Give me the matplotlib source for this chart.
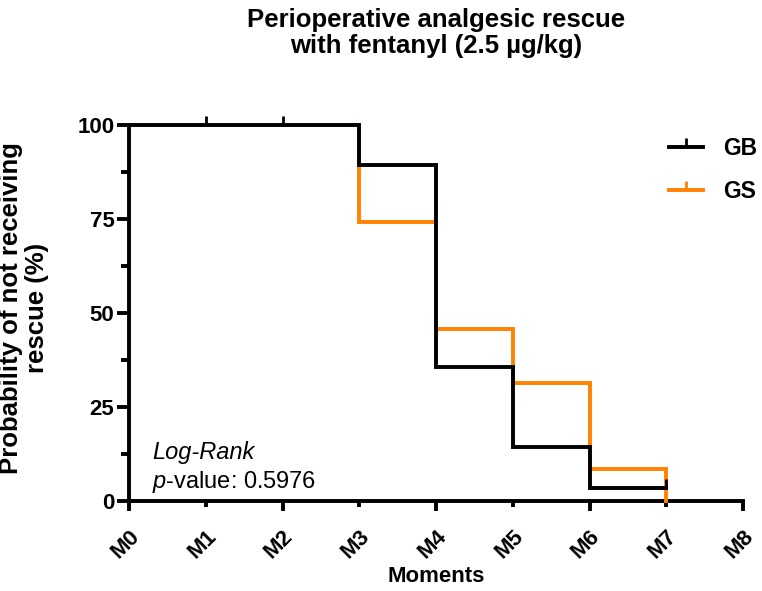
import numpy as np
import matplotlib
matplotlib.use("Agg")
import matplotlib.pyplot as plt
from matplotlib.path import Path
from matplotlib.lines import Line2D
from matplotlib.ticker import MultipleLocator

plt.rcParams["font.family"] = ["Liberation Sans", "DejaVu Sans"]
plt.rcParams["mathtext.fontset"] = "custom"
plt.rcParams["mathtext.rm"] = "Liberation Sans"
plt.rcParams["mathtext.it"] = "Liberation Sans:italic"
plt.rcParams["mathtext.bf"] = "Liberation Sans:bold"

# ── data ──────────────────────────────────────────────────────────────────────
moments   = ["M0", "M1", "M2", "M3", "M4", "M5", "M6", "M7", "M8"]
times     = [0, 1, 2, 3, 4, 5, 6, 7]
gb_surv   = [100, 100, 100, 89.29, 35.71, 14.29, 3.57, 3.57]
gs_surv   = [100, 100, 100, 74.29, 45.71, 31.43, 8.57, 0.0]
gb_cens_t = [1, 2, 7]
gb_cens_s = [100, 100, 3.57]
y_ticks   = [0, 25, 50, 75, 100]

C_GB = "black"
C_GS = "#FF8200"
LW = 2.8
TICK_FS = 16

# upward censor tick (Prism style)
tick_up = Path([(0, 0), (0, 1)])

fig = plt.figure(figsize=(7.62, 5.91), dpi=100)
ax = fig.add_axes([129 / 762, 1 - 501 / 591, (743 - 129) / 762, (501 - 125) / 591])

ax.step(times, gs_surv, where="post", color=C_GS, lw=LW, clip_on=False,
        solid_joinstyle="miter", zorder=3)
ax.step(times, gb_surv, where="post", color=C_GB, lw=LW, clip_on=False,
        solid_joinstyle="miter", zorder=4)
ax.plot(gb_cens_t, gb_cens_s, ls="none", marker=tick_up, ms=13, mew=2.0,
        color=C_GB, clip_on=False, zorder=5)

ax.set_xlim(0, 8)
ax.set_ylim(0, 100)
for s in ("top", "right"):
    ax.spines[s].set_visible(False)
for s in ("left", "bottom"):
    ax.spines[s].set_linewidth(LW)

# even moments = major ticks, odd = minor ticks (all labelled)
ax.set_xticks(range(0, 9, 2))
ax.set_xticks(range(1, 9, 2), minor=True)
ax.set_xticklabels(moments[0::2], rotation=45, ha="right", rotation_mode="anchor",
                   fontsize=TICK_FS, fontweight="bold")
ax.set_xticklabels(moments[1::2], minor=True, rotation=45, ha="right",
                   rotation_mode="anchor", fontsize=TICK_FS, fontweight="bold")
ax.set_yticks(y_ticks)
ax.yaxis.set_minor_locator(MultipleLocator(12.5))
ax.set_yticklabels([str(v) for v in y_ticks], fontsize=TICK_FS, fontweight="bold")
ax.tick_params(axis="x", which="major", length=7, width=LW, pad=11)
ax.tick_params(axis="x", which="minor", length=4, width=LW, pad=14)
ax.tick_params(axis="y", which="major", length=8.5, width=LW, pad=2)
ax.tick_params(axis="y", which="minor", length=5.5, width=LW)

fig.text(436 / 762, 1 - 8 / 591, "Perioperative analgesic rescue\nwith fentanyl (2.5 µg/kg)",
         ha="center", va="top", fontsize=18.5, fontweight="bold", linespacing=1.1)
fig.text(24 / 762, 1 - 308 / 591, "Probability of not receiving\nrescue (%)",
         ha="center", va="center", rotation=90, fontsize=18.5, fontweight="bold",
         linespacing=1.1)
fig.text(436 / 762, 1 - 577 / 591, "Moments", ha="center", va="center",
         fontsize=16, fontweight="bold")

fig.text(152 / 762, 1 - 453 / 591, "Log-Rank", ha="left", va="center",
         fontsize=17, style="italic")
fig.text(152 / 762, 1 - 482 / 591, r"$\mathit{p}$-value: 0.5976", ha="left",
         va="center", fontsize=17)

handles = [Line2D([], [], color=C_GB, lw=LW, marker=tick_up, ms=13, mew=2.0),
           Line2D([], [], color=C_GS, lw=LW, marker=tick_up, ms=13, mew=2.0)]
fig.legend(handles, ["GB", "GS"], loc="upper left",
           bbox_to_anchor=(669 / 762, 1 - 137 / 591), frameon=False,
           prop={"size": 16.5, "weight": "bold"}, handlelength=1.48,
           labelspacing=0.88, handletextpad=0.87, borderpad=0, borderaxespad=0)

fig.savefig("out.png", dpi=100)
